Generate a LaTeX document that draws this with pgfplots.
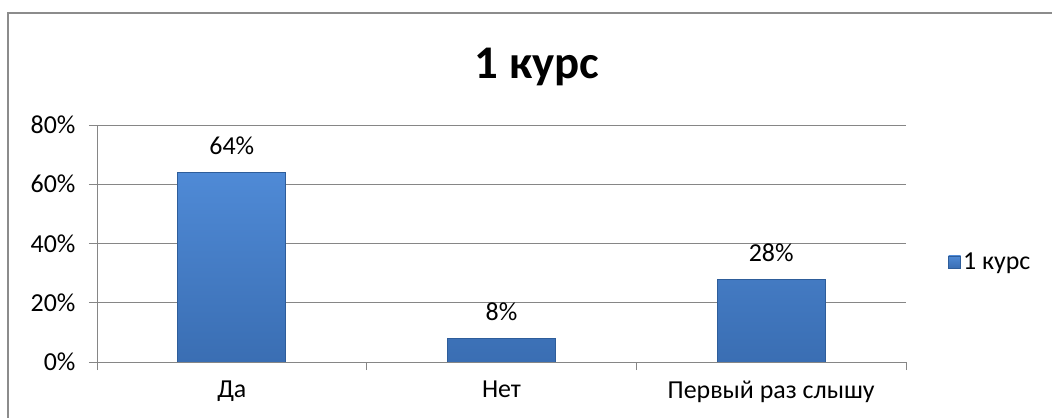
\documentclass[border=0pt]{standalone}
\usepackage{fontspec}
\setmainfont{Carlito}
\usepackage{pgfplots}
\pgfplotsset{compat=1.18}
\definecolor{bartop}{HTML}{4F8AD6}
\definecolor{barbot}{HTML}{3A6EB3}
\definecolor{baredge}{HTML}{2E5D9A}
\definecolor{gridgray}{HTML}{868686}
\definecolor{framegray}{HTML}{8C8C8C}

\begin{document}
\begin{tikzpicture}
\useasboundingbox (0bp,0bp) rectangle (1052bp,418bp);
\draw[framegray, line width=1.5bp] (8bp,0bp) -- (8bp,405bp) -- (1052bp,405bp);
\node[anchor=base, font=\fontsize{47}{50}\selectfont\bfseries] at (537bp,339bp) {1 курс};
\begin{axis}[
    at={(97bp,56bp)}, anchor=south west,
    scale only axis, width=809bp, height=237bp,
    xmin=-0.5, xmax=2.5, ymin=0, ymax=80,
    xtick={0,1,2},
    xticklabels={Да,Нет,Первый раз слышу},
    ytick={0,20,40,60,80},
    yticklabels={0\%,20\%,40\%,60\%,80\%},
    ticklabel style={font=\fontsize{26}{30}\selectfont},
    xticklabel style={yshift=-7bp},
    yticklabel style={xshift=-10bp},
    x tick style={draw=none},
    y tick style={gridgray, line width=1bp},
    tick align=outside, major tick length=8bp,
    extra x ticks={-0.5,0.5,1.5,2.5},
    extra x tick labels={},
    extra x tick style={grid=none, x tick style={draw=gridgray, line width=1bp}},
    axis x line*=bottom, axis y line*=left,
    axis line style={gridgray, line width=1bp, -},
    ymajorgrids, grid style={gridgray, line width=1bp},
    ybar, bar width=108bp,
    nodes near coords, point meta=explicit symbolic,
    every node near coord/.append style={font=\fontsize{26}{30}\selectfont, yshift=14bp},
    legend style={at={(1.052,0.422)}, anchor=west, draw=none,
        font=\fontsize{26}{30}\selectfont, inner sep=0pt},
    legend image code/.code={\fill[top color=bartop, bottom color=barbot, draw=baredge]
        (0bp,-6bp) rectangle (12bp,6bp);},
]
\addplot[top color=bartop, bottom color=barbot, draw=baredge, line width=0.8bp]
    coordinates {(0,64)[64\%] (1,8)[8\%] (2,28)[28\%]};
\legend{1 курс}
\end{axis}
\end{tikzpicture}
\end{document}
